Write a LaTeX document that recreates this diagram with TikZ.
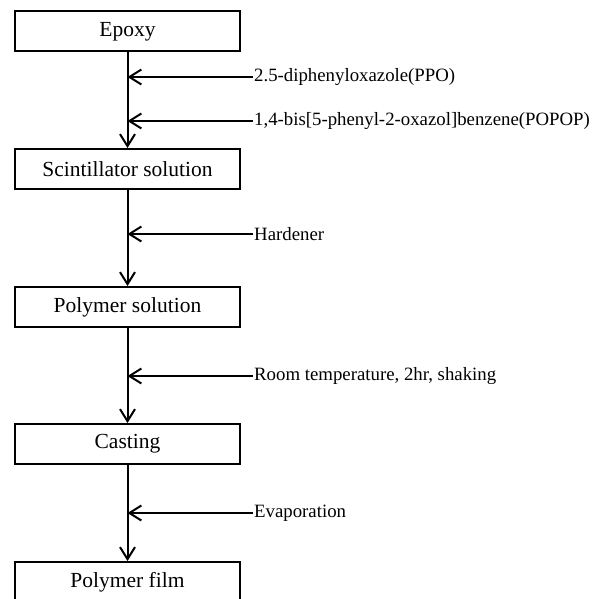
\documentclass[tikz,border=0pt]{standalone}
\usepackage{fontspec}
\setmainfont{Liberation Serif}
\usetikzlibrary{arrows.meta}
\begin{document}
\begin{tikzpicture}[x=1pt,y=-1pt,
  stagebox/.style={draw, line width=2pt, minimum width=225pt, minimum height=40pt, inner sep=0pt, font=\fontsize{21.5pt}{24pt}\selectfont},
  lab/.style={anchor=west, inner sep=1pt, font=\fontsize{18.8pt}{22pt}\selectfont},
  arr/.style={line width=2pt, -{Straight Barb[length=12pt,width=15pt,line width=2pt]}}]
\clip (0,0) rectangle (602,599);
\fill[white] (0,0) rectangle (602,599);
\node[stagebox] (epoxy) at (127.5,31.5) {Epoxy};
\node[stagebox] (scint) at (127.5,169) {Scintillator solution};
\node[stagebox] (polysol) at (127.5,307) {Polymer solution};
\node[stagebox] (casting) at (127.5,444) {Casting};
\node[stagebox] (film) at (127.5,582) {Polymer film};
\draw[arr] (epoxy) -- (scint);
\draw[arr] (scint) -- (polysol);
\draw[arr] (polysol) -- (casting);
\draw[arr] (casting) -- (film);
\node[lab] (l1) at (253,77) {2.5-diphenyloxazole(PPO)};
\node[lab] (l2) at (253,121) {1,4-bis[5-phenyl-2-oxazol]benzene(POPOP)};
\node[lab] (l3) at (253,234) {Hardener};
\node[lab] (l4) at (253,376) {Room temperature, 2hr, shaking};
\node[lab] (l5) at (253,513) {Evaporation};
\draw[arr] (l1.west) -- (l1.west -| epoxy.south);
\draw[arr] (l2.west) -- (l2.west -| epoxy.south);
\draw[arr] (l3.west) -- (l3.west -| scint.south);
\draw[arr] (l4.west) -- (l4.west -| polysol.south);
\draw[arr] (l5.west) -- (l5.west -| casting.south);
\end{tikzpicture}
\end{document}
